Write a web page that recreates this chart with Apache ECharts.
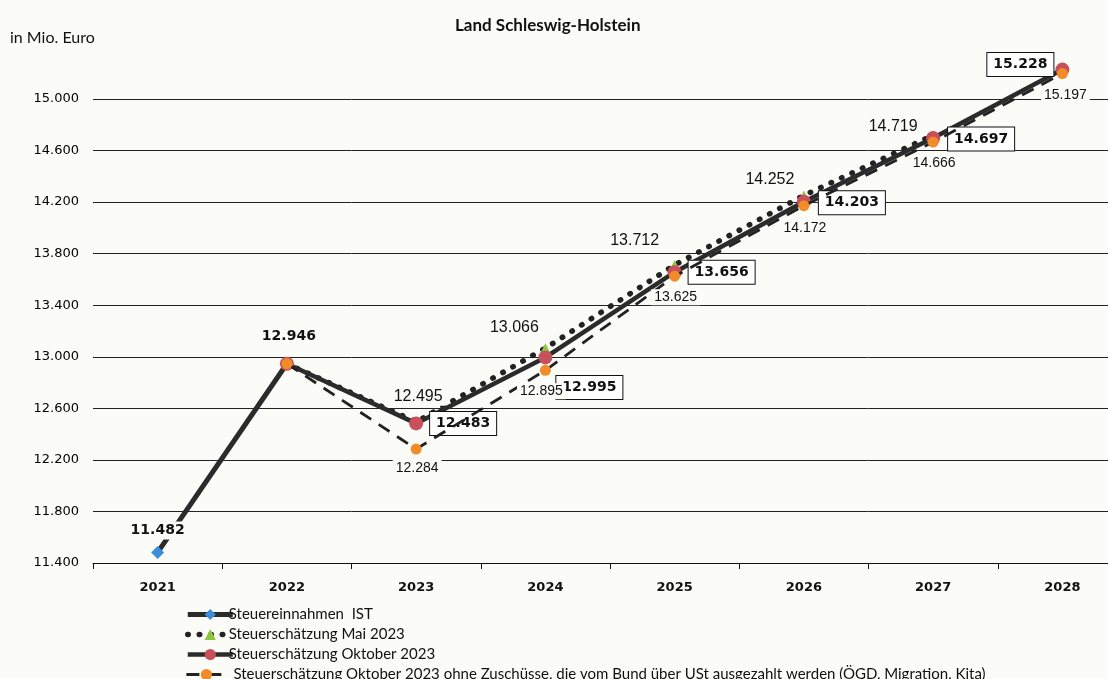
<!DOCTYPE html>
<html>
<head>
<meta charset="utf-8">
<script src="https://cdn.jsdelivr.net/npm/echarts@6/dist/echarts.min.js"></script>
<style>html,body{margin:0;padding:0;background:#fbfbf7;overflow:hidden;width:1108px;height:679px;}#c{width:1127px;height:679px;}</style>
</head>
<body>
<div id="c"></div>
<script>
const years = ['2021','2022','2023','2024','2025','2026','2027','2028'];
const yTicks = [11400, 15000, 400];
const ist  = [11482, 12946, null, null, null, null, null, null];
const mai  = [null, 12946, 12495, 13066, 13712, 14252, 14719, null];
const okt  = [null, 12946, 12483, 12995, 13656, 14203, 14697, 15228];
const ohne = [null, 12946, 12284, 12895, 13625, 14172, 14666, 15197];
const names = [
  'Steuereinnahmen  IST',
  'Steuerschätzung Mai 2023',
  'Steuerschätzung Oktober 2023',
  'Steuerschätzung Oktober 2023 ohne Zuschüsse, die vom Bund über USt ausgezahlt werden (ÖGD, Migration, Kita)'
];

// label offsets (styling only)
const istOff  = [[0,-22],[2,-27]];
const maiOff  = {2:[2,-25],3:[-31,-21],4:[-40,-24],5:[-34,-16],6:[-40,-9]};
const oktOff  = {2:[47,0],3:[44,30],4:[47,0],5:[48,1],6:[48,1],7:[-42,-5]};
const ohneOff = {2:[1,19],3:[-4,21],4:[1,21],5:[1,22],6:[1,21],7:[3,22]};

const BG = '#fbfbf7';
function fmt(v){ const s = String(Math.round(v)); return s.replace(/\B(?=(\d{3})+(?!\d))/g,'.'); }

function build(arr, offs, labelStyle){
  return arr.map((v,i)=>{
    if (v === null) return null;
    const o = offs[i];
    if (!o) return {value:v, label:{show:false}};
    return {value:v, label:Object.assign({show:true, position:'inside', offset:o, formatter:p=>fmt(p.value)}, labelStyle)};
  });
}

const lineStyles = [
  {color:'#2b2b2b', width:5},
  {color:'#222', width:5.5, type:[0.5,11], cap:'round'},
  {color:'#2b2b2b', width:4.5},
  {color:'#222', width:2.8, type:[13,9]}
];
const legendText = {fontFamily:'Lato', fontSize:15, color:'#111', padding:[0,0,0,-9]};

const chart = echarts.init(document.getElementById('c'));
chart.setOption({
  backgroundColor: BG,
  animation: false,
  title: {
    text: 'Land Schleswig-Holstein', left: 450, top: 12,
    textStyle: {fontFamily:'Lato', fontWeight:'bold', fontSize:17, color:'#111'}
  },
  graphic: [{type:'text', left:10, top:30, style:{text:'in Mio. Euro', fontFamily:'Lato', fontSize:16, fill:'#111'}}],
  legend: [
    {
      orient:'vertical', left:180, top:602, itemWidth:45, itemHeight:14, itemGap:5,
      textStyle:legendText,
      data: [0,1,2].map(i=>({name:names[i], lineStyle:lineStyles[i]}))
    },
    {
      orient:'vertical', left:180, top:662, itemWidth:40, itemHeight:14, itemGap:3,
      textStyle:Object.assign({}, legendText, {padding:[0,0,0,2]}),
      data: [{name:names[3], lineStyle:lineStyles[3]}]
    }
  ],
  grid: {left:93, top:99, right:0, bottom:116},
  xAxis: {
    type:'category', data: years, boundaryGap:true,
    axisLine:{lineStyle:{color:'#111', width:1}},
    axisTick:{show:true, length:6, lineStyle:{color:'#111'}},
    axisLabel:{fontFamily:'DejaVu Sans', fontWeight:'bold', fontSize:13, color:'#111', margin:18}
  },
  yAxis: {
    type:'value', min:yTicks[0], max:yTicks[1], interval:yTicks[2],
    axisLine:{show:false}, axisTick:{show:false},
    splitLine:{lineStyle:{color:'#222', width:1}},
    axisLabel:{fontFamily:'DejaVu Sans', fontSize:13, color:'#000', margin:14, formatter:v=>fmt(v)}
  },
  series: [
    {
      name: names[0], type:'line', data: build(ist, istOff, {fontFamily:'DejaVu Sans', fontWeight:'bold', fontSize:14, color:'#111', backgroundColor:BG, padding:[2,3]}),
      clip:false, symbol:'diamond', symbolSize:13, itemStyle:{color:'#3a8fd9'},
      lineStyle:lineStyles[0], z:2
    },
    {
      name: names[1], type:'line', data: build(mai, maiOff, {fontFamily:'Liberation Sans', fontSize:16, color:'#111', backgroundColor:BG, padding:[1,3]}),
      clip:false, symbol:'triangle', symbolSize:10, itemStyle:{color:'#8cc63f'},
      lineStyle:lineStyles[1], z:3
    },
    {
      name: names[2], type:'line', data: build(okt, oktOff, {fontFamily:'DejaVu Sans', fontWeight:'bold', fontSize:14, color:'#111', backgroundColor:'#fff', borderColor:'#111', borderWidth:1, padding:[5,6,4,6]}),
      clip:false, symbol:'circle', symbolSize:14, itemStyle:{color:'#c8505a'},
      lineStyle:lineStyles[2], z:4
    },
    {
      name: names[3], type:'line', data: build(ohne, ohneOff, {fontFamily:'Liberation Sans', fontSize:14, color:'#111', backgroundColor:BG, padding:[1,3]}),
      clip:false, symbol:'circle', symbolSize:11, itemStyle:{color:'#f28c28'},
      lineStyle:lineStyles[3], z:5
    }
  ]
});
</script>
</body>
</html>
